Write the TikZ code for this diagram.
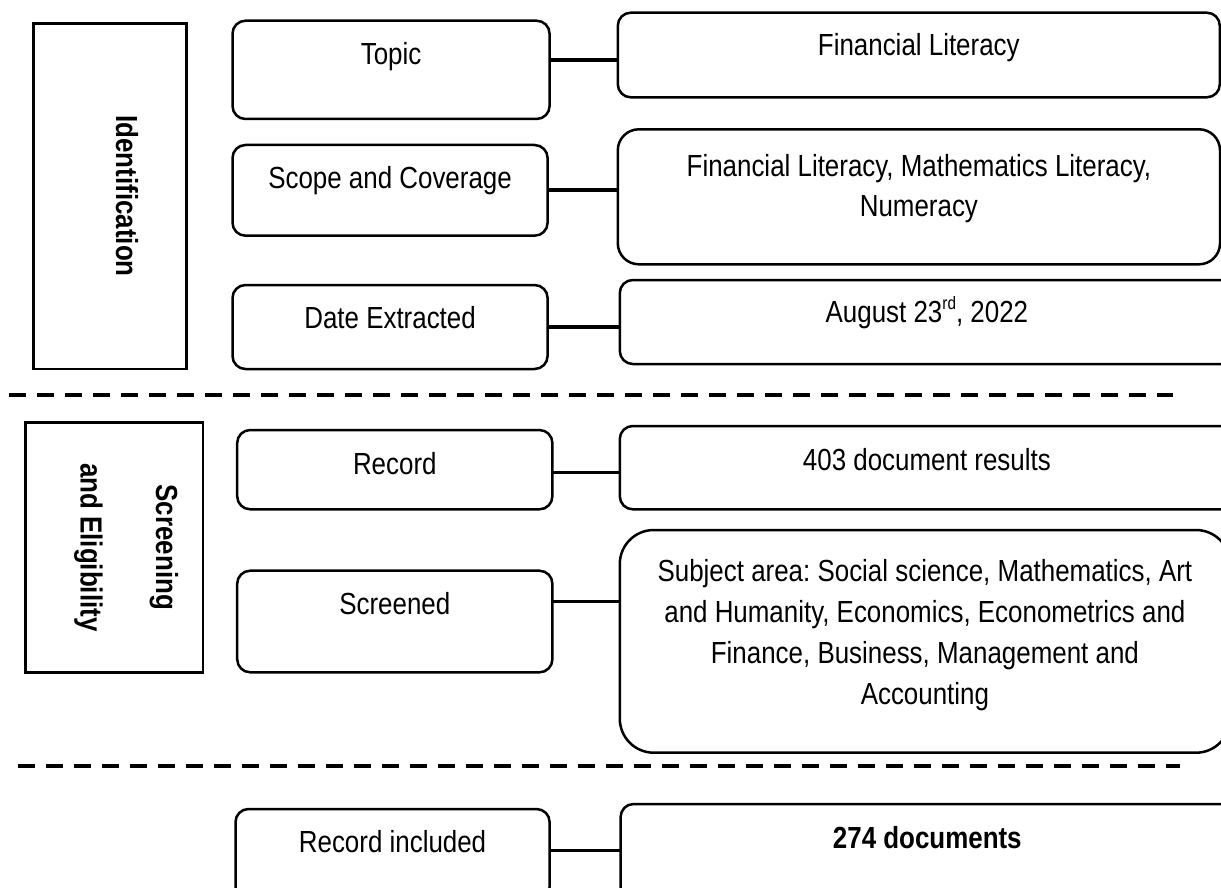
\documentclass[tikz,border=0pt]{standalone}
\usepackage{fontspec}
\setmainfont{Liberation Sans}[FakeStretch=0.85]
\frenchspacing
\newcommand{\stagetxt}[1]{\begin{tabular}[t]{@{}c@{}}#1\end{tabular}}
\begin{document}
\frenchspacing
\begin{tikzpicture}[x=1pt,y=-1pt,
  every node/.style={inner sep=0pt, outer sep=0pt, font=\fontsize{30.5}{40.5}\selectfont},
  boldtxt/.style={font=\fontsize{30.5}{40.5}\selectfont\bfseries},
  sqbox/.style={draw, line width=2.5pt},
  rbox/.style={draw, line width=2.5pt, rounded corners=#1},
  rbox/.default=13pt,
  conn/.style={line width=3.3pt},
  sepline/.style={line width=4pt, dash pattern=on 16.7pt off 11.3pt},
]
\path[use as bounding box] (0,0) rectangle (1221,888);
\clip (0,0) rectangle (1221,888);

% stage boxes (rotated labels)
\node[sqbox, boldtxt, rotate=-90, minimum width=345.7pt, text height=70.6pt, text depth=82.4pt]
  (ident) at (110.1,196.15) {Identification};
\node[sqbox, boldtxt, rotate=-90, minimum width=250pt, text height=46.8pt, text depth=130.3pt]
  (screen) at (114.25,547.3) {\stagetxt{Screening\\[35pt]and Eligibility}};

% middle boxes
\node[rbox, minimum width=317.1pt, text height=43.8pt, text depth=54.5pt] (topic) at (391.05,69.85) {Topic};
\node[rbox, minimum width=315.1pt, text height=44pt, text depth=46.7pt] (scope) at (390.05,190.35) {Scope and Coverage};
\node[rbox, minimum width=315.1pt, text height=43.5pt, text depth=40.5pt] (date) at (390.05,327) {Date Extracted};
\node[rbox, minimum width=315.2pt, text height=44pt, text depth=35.3pt] (record) at (394.8,469.65) {Record};
\node[rbox, minimum width=315.2pt, text height=43.3pt, text depth=58.3pt] (screened) at (394.8,621.5) {Screened};
\node[rbox, minimum width=314.1pt, text height=43pt, text depth=48pt] (recinc) at (392.55,854.5) {Record included};

% right boxes
\node[rbox, minimum width=602pt, text height=43pt, text depth=41.6pt] (fin) at (918.8,55) {Financial Literacy};
\node[rbox=21pt, minimum width=602.2pt, text height=47.4pt, text depth=87.6pt, font=\fontsize{30.5}{40}\selectfont] (scoper) at (918.9,196.8)
  {\stagetxt{Financial Literacy, Mathematics Literacy,\\Numeracy}};
\node[rbox, minimum width=614.2pt, text height=42.5pt, text depth=41.5pt] (dater) at (926.9,322)
  {August 23\raisebox{0.42em}{\fontsize{18}{18}\selectfont rd}, 2022};
\node[rbox, minimum width=614.2pt, text height=44pt, text depth=39.3pt] (r403) at (926.9,467.65) {403 document results};
\node[rbox=34pt, minimum width=610.2pt, text height=51.7pt, text depth=171pt, font=\fontsize{30.5}{41}\selectfont] (subj) at (924.9,641.35)
  {\stagetxt{Subject area: Social science, Mathematics, Art\\and Humanity, Economics, Econometrics and\\Finance, Business, Management and\\Accounting}};
\node[rbox, boldtxt, minimum width=613.4pt, text height=44pt, text depth=52pt] (d274) at (927.3,852) {274 documents};

% connectors
\draw[conn] (topic.east |- 0,60) -- (fin.west |- 0,60);
\draw[conn] (scope.east |- 0,190) -- (scoper.west |- 0,190);
\draw[conn] (date.east |- 0,327) -- (dater.west |- 0,327);
\draw[conn] (record.east |- 0,472.5) -- (r403.west |- 0,472.5);
\draw[conn] (screened.east |- 0,601.7) -- (subj.west |- 0,601.7);
\draw[conn] (recinc.east |- 0,850.7) -- (d274.west |- 0,850.7);

% stage separators
\draw[sepline] (9.3,395) -- (1173,395);
\draw[sepline] (17.8,766) -- (1180,766);
\end{tikzpicture}
\end{document}
